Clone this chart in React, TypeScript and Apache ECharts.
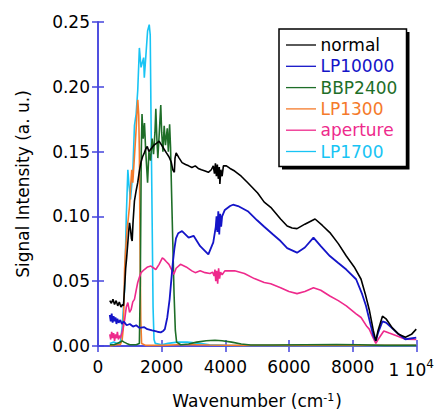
import React, { useEffect, useRef } from "react";
import * as echarts from "echarts";

const seriesNames = ["normal", "LP10000", "BBP2400", "LP1300", "aperture", "LP1700"];
const seriesColors = ["#000000", "#1414c8", "#1e6e28", "#f57a2a", "#ee2a8c", "#18c4f4"];

const xTicks = [0, 2000, 4000, 6000, 8000, 10000];
const yTicks = [0, 0.05, 0.1, 0.15, 0.2, 0.25];

const normal = [
  [370, 0.035], [420, 0.033], [470, 0.036], [520, 0.032], [570, 0.035], [620, 0.031], [670, 0.034],
  [720, 0.030], [770, 0.032], [800, 0.031], [836, 0.045], [870, 0.060], [900, 0.068], [938, 0.080],
  [970, 0.090], [991, 0.095], [1022, 0.090], [1050, 0.083], [1074, 0.081], [1100, 0.095], [1145, 0.112],
  [1200, 0.120], [1248, 0.126], [1300, 0.135], [1353, 0.142], [1400, 0.146], [1455, 0.149], [1500, 0.152],
  [1548, 0.154], [1600, 0.150], [1662, 0.152], [1760, 0.155], [1867, 0.157], [1920, 0.158], [2000, 0.155],
  [2074, 0.152], [2150, 0.149], [2229, 0.146], [2300, 0.142], [2350, 0.136], [2399, 0.134], [2420, 0.145],
  [2455, 0.149], [2550, 0.145], [2641, 0.1415], [2750, 0.140], [2848, 0.139], [2950, 0.1377], [3056, 0.139],
  [3150, 0.137], [3250, 0.136], [3365, 0.135], [3468, 0.134], [3560, 0.136], [3622, 0.139], [3660, 0.133],
  [3690, 0.141], [3720, 0.131], [3750, 0.140], [3780, 0.129], [3810, 0.138], [3830, 0.125], [3860, 0.136],
  [3900, 0.131], [3940, 0.139], [4034, 0.139], [4150, 0.137], [4294, 0.135], [4500, 0.131], [4706, 0.126],
  [5016, 0.118], [5223, 0.111], [5427, 0.107], [5737, 0.098], [5944, 0.0926], [6100, 0.091], [6254, 0.0906],
  [6500, 0.094], [6820, 0.098], [7050, 0.093], [7285, 0.0875], [7550, 0.079], [7802, 0.0694], [8050, 0.061],
  [8266, 0.0515], [8400, 0.040], [8523, 0.028], [8650, 0.012], [8730, 0.004], [8800, 0.012], [8938, 0.023],
  [9050, 0.021], [9247, 0.014], [9450, 0.009], [9659, 0.0068], [9850, 0.009], [10000, 0.013],
];

const lp10000 = [
  [370, 0.024], [400, 0.019], [430, 0.025], [460, 0.018], [490, 0.023], [520, 0.019], [550, 0.022],
  [580, 0.017], [610, 0.021], [650, 0.018], [700, 0.020], [750, 0.017], [800, 0.019], [836, 0.018],
  [900, 0.016], [1000, 0.017], [1100, 0.015], [1200, 0.016], [1300, 0.014], [1455, 0.0145], [1550, 0.013],
  [1700, 0.012], [1867, 0.011], [1970, 0.0105], [2050, 0.0116], [2100, 0.013], [2177, 0.022], [2250, 0.036],
  [2300, 0.050], [2350, 0.064], [2400, 0.075], [2450, 0.083], [2520, 0.087], [2641, 0.0887], [2848, 0.0836],
  [3003, 0.085], [3210, 0.077], [3468, 0.0707], [3622, 0.080], [3700, 0.092], [3725, 0.100], [3750, 0.088],
  [3780, 0.104], [3810, 0.086], [3840, 0.102], [3870, 0.092], [3900, 0.100], [3985, 0.105], [4150, 0.108],
  [4241, 0.109], [4400, 0.108], [4706, 0.104], [5000, 0.097], [5223, 0.092], [5500, 0.086], [5737, 0.081],
  [5944, 0.0755], [6254, 0.072], [6500, 0.076], [6770, 0.0836], [7000, 0.077], [7285, 0.0694], [7550, 0.064],
  [7802, 0.059], [8110, 0.0515], [8300, 0.040], [8420, 0.031], [8550, 0.018], [8650, 0.008], [8730, 0.004],
  [8800, 0.010], [8938, 0.019], [9050, 0.018], [9247, 0.0137], [9450, 0.009], [9659, 0.0052], [10000, 0.0065],
];

const bbp2400 = [
  [370, 0.001], [500, 0.001], [600, 0.002], [700, 0.003], [760, 0.004], [820, 0.003], [900, 0.002],
  [1000, 0.001], [1200, 0.001], [1300, 0.002], [1330, 0.05], [1360, 0.150], [1383, 0.179], [1420, 0.160],
  [1460, 0.172], [1500, 0.150], [1558, 0.126], [1600, 0.150], [1650, 0.143], [1700, 0.160], [1745, 0.148],
  [1790, 0.165], [1817, 0.183], [1850, 0.160], [1880, 0.145], [1920, 0.162], [1972, 0.186], [2000, 0.165],
  [2040, 0.150], [2080, 0.170], [2120, 0.155], [2177, 0.168], [2210, 0.150], [2250, 0.171], [2280, 0.153],
  [2310, 0.120], [2350, 0.080], [2390, 0.040], [2430, 0.012], [2470, 0.003], [2600, 0.001], [2848, 0.0015],
  [3100, 0.003], [3400, 0.004], [3675, 0.0044], [3900, 0.004], [4200, 0.003], [4500, 0.0015], [4800, 0.0008],
  [5500, 0.0008], [6500, 0.001], [7500, 0.0012], [8200, 0.001], [9000, 0.0005], [10000, 0.0005],
];

const lp1300 = [
  [370, 0.000], [600, 0.001], [700, 0.001], [760, 0.005], [800, 0.015], [836, 0.060], [870, 0.075],
  [920, 0.092], [950, 0.098], [990, 0.108], [1030, 0.125], [1060, 0.136], [1093, 0.126], [1145, 0.146],
  [1200, 0.168], [1218, 0.177], [1250, 0.190], [1280, 0.178], [1300, 0.150], [1320, 0.080], [1345, 0.020],
  [1370, 0.002], [1500, 0.0005], [2000, 0.0005], [2500, 0.001], [3000, 0.001], [3500, 0.0008], [4500, 0.0005],
  [10000, 0.0005],
];

const aperture = [
  [370, 0.009], [400, 0.005], [430, 0.011], [460, 0.006], [490, 0.010], [520, 0.004], [550, 0.009],
  [580, 0.006], [610, 0.011], [640, 0.005], [670, 0.008], [700, 0.006], [750, 0.010], [780, 0.013],
  [836, 0.020], [889, 0.030], [938, 0.0335], [991, 0.026], [1040, 0.028], [1093, 0.034], [1145, 0.036],
  [1200, 0.043], [1248, 0.049], [1300, 0.053], [1353, 0.0566], [1455, 0.059], [1560, 0.061], [1662, 0.0617],
  [1760, 0.060], [1817, 0.059], [1920, 0.063], [2022, 0.068], [2074, 0.067], [2150, 0.065], [2229, 0.063],
  [2331, 0.058], [2384, 0.0553], [2455, 0.060], [2591, 0.063], [2770, 0.061], [2950, 0.058], [3056, 0.0566],
  [3210, 0.058], [3365, 0.0566], [3520, 0.056], [3600, 0.057], [3650, 0.054], [3675, 0.059], [3700, 0.050],
  [3730, 0.058], [3760, 0.048], [3790, 0.060], [3820, 0.052], [3850, 0.057], [3900, 0.055], [3985, 0.058],
  [4294, 0.058], [4600, 0.056], [4913, 0.052], [5223, 0.049], [5427, 0.048], [5737, 0.045], [6000, 0.042],
  [6254, 0.0404], [6500, 0.042], [6770, 0.045], [7000, 0.043], [7285, 0.0386], [7550, 0.035], [7802, 0.031],
  [8100, 0.025], [8266, 0.022], [8450, 0.015], [8523, 0.013], [8650, 0.006], [8730, 0.002], [8800, 0.005],
  [8980, 0.0116], [9150, 0.010], [9400, 0.0077], [9659, 0.0052], [10000, 0.005],
];

const lp1700 = [
  [370, 0.002], [500, 0.003], [600, 0.002], [680, 0.002], [710, 0.004], [760, 0.015], [800, 0.030],
  [836, 0.044], [889, 0.100], [938, 0.136], [970, 0.125], [1022, 0.113], [1093, 0.134], [1145, 0.170],
  [1198, 0.179], [1248, 0.197], [1300, 0.230], [1352, 0.215], [1434, 0.2225], [1455, 0.207], [1507, 0.225],
  [1558, 0.243], [1610, 0.248], [1641, 0.240], [1665, 0.179], [1700, 0.100], [1730, 0.030], [1760, 0.005],
  [1800, 0.002], [2000, 0.001], [2200, 0.002], [2500, 0.003], [2800, 0.003], [3200, 0.002], [3500, 0.001],
  [4000, 0.0005], [10000, 0.0003],
];

const seriesData = [normal, lp10000, bbp2400, lp1300, aperture, lp1700];
const drawOrder = [5, 3, 2, 4, 1, 0];

const FONT = "DejaVu Sans";
const AXIS_COLOR = "#4444dd";

export default function App() {
  const ref = useRef<HTMLDivElement>(null);
  useEffect(() => {
    document.body.style.margin = "0";
    const chart = echarts.init(ref.current!, null, { renderer: "svg" });
    const axisCommon = {
      axisLine: { show: true, lineStyle: { color: AXIS_COLOR, width: 1.5 } },
      axisTick: { show: true, inside: true, length: 6, lineStyle: { color: AXIS_COLOR, width: 1.5 } },
      splitLine: { show: false },
    };
    const legendItems: any[] = [];
    const rowY0 = 45;
    const rowStep = 21.3;
    seriesNames.forEach((n, i) => {
      const y = rowY0 + i * rowStep;
      legendItems.push({
        type: "line",
        shape: { x1: 286, y1: y, x2: 316, y2: y },
        style: { stroke: seriesColors[i], lineWidth: 1.3 },
        z: 102,
      });
      legendItems.push({
        type: "text",
        x: 320.5,
        y: y,
        style: {
          text: n,
          fill: seriesColors[i],
          font: `17px '${FONT}'`,
          verticalAlign: "middle",
          align: "left",
        },
        z: 102,
      });
    });
    chart.setOption({
      animation: false,
      backgroundColor: "#ffffff",
      grid: { left: 98, right: 26, top: 22, bottom: 67.3, containLabel: false },
      xAxis: [
        {
          type: "value",
          min: 0,
          max: 10000,
          interval: 2000,
          position: "bottom",
          ...axisCommon,
          name: "Wavenumber (cm{s|-1})",
          nameLocation: "middle",
          nameGap: 46,
          nameTextStyle: {
            fontFamily: FONT,
            fontSize: 17,
            color: "#000",
            rich: { s: { fontSize: 11, verticalAlign: "top", fontFamily: FONT, color: "#000", padding: [0, 1, 0, 0] } },
          },
          axisLabel: {
            margin: 12,
            color: "#000",
            fontFamily: FONT,
            fontSize: 17,
            formatter: (v: number) => (v === 10000 ? "{a|1 10}{s|4}" : String(v)),
            rich: {
              a: { fontSize: 17, fontFamily: FONT, color: "#000", lineHeight: 20, verticalAlign: "bottom" },
              s: { fontSize: 12, fontFamily: FONT, color: "#000", verticalAlign: "top", lineHeight: 14, padding: [0, 10, 0, 0] },
            },
          },
        },
        {
          type: "value",
          min: 0,
          max: 10000,
          interval: 2000,
          position: "top",
          ...axisCommon,
          axisLabel: { show: false },
        },
      ],
      yAxis: [
        {
          type: "value",
          min: 0,
          max: 0.25,
          interval: 0.05,
          position: "left",
          ...axisCommon,
          name: "Signal Intensity (a. u.)",
          nameLocation: "middle",
          nameGap: 67,
          nameTextStyle: { fontFamily: FONT, fontSize: 17, color: "#000" },
          axisLabel: {
            margin: 8,
            color: "#000",
            fontFamily: FONT,
            fontSize: 17,
            formatter: (v: number) => v.toFixed(2),
          },
        },
        {
          type: "value",
          min: 0,
          max: 0.25,
          interval: 0.05,
          position: "right",
          ...axisCommon,
          axisLabel: { show: false },
        },
      ],
      series: drawOrder.map((i) => ({
        name: seriesNames[i],
        type: "line",
        data: seriesData[i],
        showSymbol: false,
        symbol: "none",
        xAxisIndex: 0,
        yAxisIndex: 0,
        lineStyle: { color: seriesColors[i], width: i === 1 ? 1.8 : 1.6 },
        itemStyle: { color: seriesColors[i] },
        z: 2,
      })),
      graphic: [
        { type: "rect", shape: { x: 282, y: 32, width: 127.5, height: 137.5 }, style: { fill: "#000" }, z: 100 },
        {
          type: "rect",
          shape: { x: 279, y: 29, width: 127.5, height: 137.5 },
          style: { fill: "#fff", stroke: "#000", lineWidth: 1.5 },
          z: 101,
        },
        ...legendItems,
      ],
    });
    return () => chart.dispose();
  }, []);
  return <div ref={ref} style={{ width: 447, height: 414 }} />;
}
